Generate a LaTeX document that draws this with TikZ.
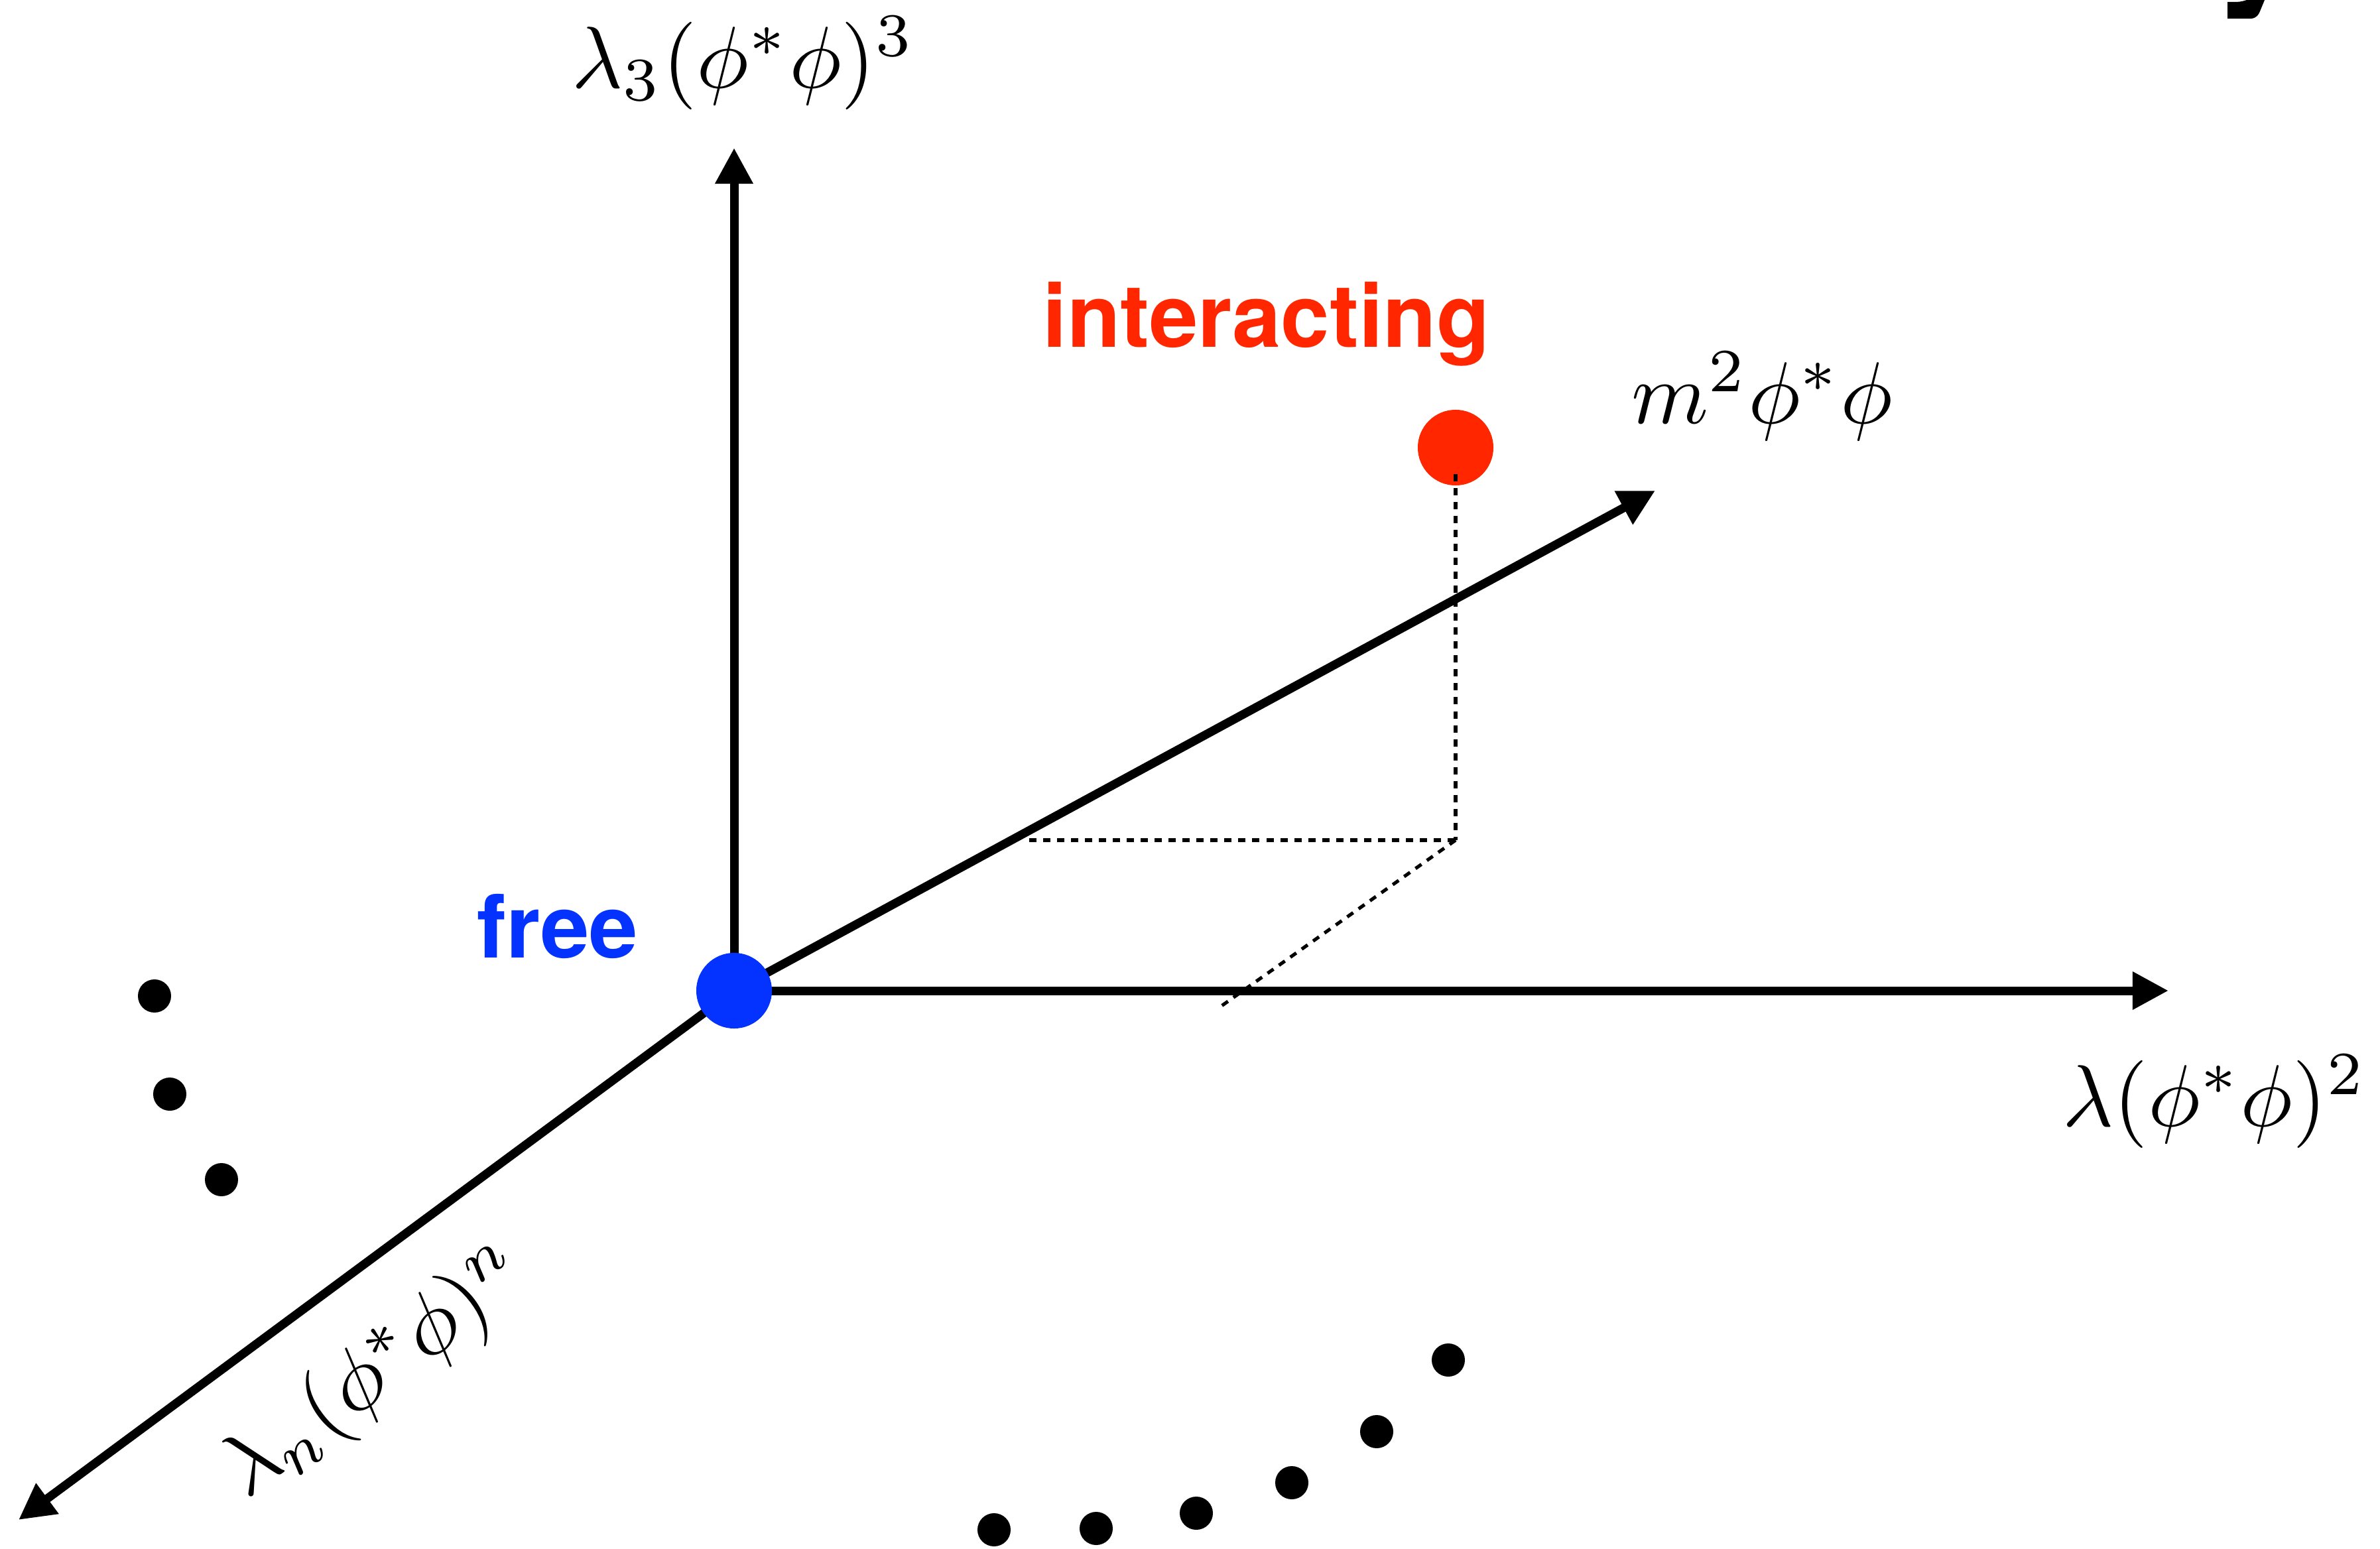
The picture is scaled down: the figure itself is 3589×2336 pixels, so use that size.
\documentclass[tikz,border=0pt]{standalone}
\usepackage{graphicx}
\usepackage{fontspec}
\newfontfamily\hv{TeX Gyre Heros}
\usetikzlibrary{arrows.meta}
\definecolor{kred}{RGB}{255,38,0}
\definecolor{kblue}{RGB}{4,51,255}
\newcommand{\bigmath}[1]{\scalebox{3.76}{$#1$}}
\tikzset{
  axisline/.style={line width=3.7pt, -{Triangle[length=15.4pt,width=15.4pt]}},
  guide/.style={line width=1.45pt, dash pattern=on 3.13pt off 2.85pt},
  mathlbl/.style={inner sep=0pt},
  wordlbl/.style={inner sep=0pt, font=\hv\bfseries\fontsize{37.5}{45}\selectfont},
  bigdot/.style={circle, inner sep=0pt, minimum size=1.14cm},
  smalldot/.style={circle, fill=black, inner sep=0pt, minimum size=0.5cm},
}
\begin{document}
\begin{tikzpicture}[x=0.01cm, y=-0.01cm]
\useasboundingbox (0,0) rectangle (3589,2336);
% axes
\coordinate (O) at (1107,1494);
\coordinate (ztip) at (1107,223);
\coordinate (xtip) at (3270,1494);
\coordinate (mtip) at (2496,740);
\coordinate (ntip) at (28,2292);
\draw[axisline] (O) -- (ztip);
\draw[axisline] (O) -- (xtip);
\draw[axisline] (O) -- (mtip);
\draw[axisline] (O) -- (ntip);
% red point and guides
\node[bigdot, fill=kred] (rdot) at (2195,675) {};
\coordinate (g1) at (2195,715);
\coordinate (g2) at (2195,1267);
\coordinate (g3) at (1552,1267);
\coordinate (g4) at (1842,1517);
\draw[guide] (g1) -- (g2);
\draw[guide] (g3) -- (g2);
\draw[guide] (g2) -- (g4);
% blue point
\node[bigdot, fill=kblue] (bdot) at (O) {};
% labels
\node[mathlbl, anchor=base west] (lz) at (862,132) {\bigmath{\lambda_3(\phi^*\phi)^3}};
\node[mathlbl, anchor=base west] (lm) at (2460,638) {\bigmath{m^2\phi^*\phi}};
\node[mathlbl, anchor=base west] (lx) at (3110,1698) {\bigmath{\lambda(\phi^*\phi)^2}};
\node[mathlbl, rotate=37] (ln) at (568,2072) {\bigmath{\lambda_n(\phi^*\phi)^n}};
\node[wordlbl, text=kred, anchor=base west] (lint) at (1572,523) {interacting};
\node[wordlbl, text=kblue, anchor=base west] (lfree) at (719,1444) {free};
% dots
\node[smalldot] (d1) at (233,1502) {};
\node[smalldot] (d2) at (256,1650) {};
\node[smalldot] (d3) at (334,1779) {};
\node[smalldot] (d4) at (1499,2307) {};
\node[smalldot] (d5) at (1653,2305) {};
\node[smalldot] (d6) at (1804,2282) {};
\node[smalldot] (d7) at (1948,2236) {};
\node[smalldot] (d8) at (2076,2159) {};
\node[smalldot] (d9) at (2184,2051) {};
% cut-off glyph at top right
\fill (3359,3) -- (3359,28) -- (3395,28) .. controls (3403,27) and (3406,22) .. (3408,17) -- (3415,0) -- (3388,0) .. controls (3378,3) .. (3359,3) -- cycle;
\end{tikzpicture}
\end{document}
